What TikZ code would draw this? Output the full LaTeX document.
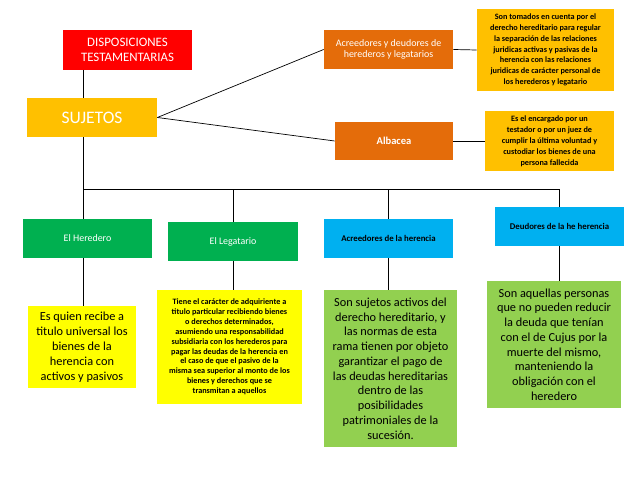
\documentclass[tikz,border=0pt]{standalone}
\usepackage{fontspec}
\setmainfont{Carlito}
\usepackage{xcolor}
\usepackage{tikz}
\usetikzlibrary{positioning}

\definecolor{rojo}{HTML}{FF0000}
\definecolor{oro}{HTML}{FFC000}
\definecolor{naranja}{HTML}{E46C0A}
\definecolor{verde}{HTML}{00B050}
\definecolor{celeste}{HTML}{00B0F0}
\definecolor{amarillo}{HTML}{FFFF00}
\definecolor{lima}{HTML}{92D050}

\begin{document}
\begin{tikzpicture}[x=0.03cm, y=-0.03cm, line width=0.6pt,
    every node/.style={inner sep=0pt, align=center},
    box/.style={rectangle, draw=none, minimum width=3.87cm, minimum height=1.17cm},
    titulo/.style={box, fill=rojo, text=white, font=\fontsize{11}{13.4}\selectfont},
    sujeto/.style={box, fill=oro, text=white, font=\fontsize{15}{18}\selectfont},
    rama/.style={box, fill=naranja, text=white},
    nota/.style={rectangle, fill=oro, font=\bfseries\fontsize{7}{9.2}\selectfont},
    tipo/.style={box, fill=verde, text=white, font=\fontsize{8.5}{10}\selectfont},
    tipoazul/.style={box, fill=celeste, font=\bfseries\fontsize{7.5}{9}\selectfont},
    defamarilla/.style={rectangle, fill=amarillo},
    defverde/.style={rectangle, fill=lima, font=\fontsize{10.5}{12.6}\selectfont}]
    \useasboundingbox (0,0) rectangle (638,479);
    % cabecera
    \node[titulo] (disp) at (127.5,50) {DISPOSICIONES\\TESTAMENTARIAS};
    \node[sujeto, minimum width=3.9cm] (suj) at (92,117.5) {SUJETOS};
    % rama derecha
    \node[rama, font=\fontsize{8.5}{10}\selectfont] (acdh) at (388.5,49.5) {Acreedores y deudores de\\herederos y legatarios};
    \node[nota, minimum width=4.11cm, minimum height=2.46cm] (acdhnota) at (545.5,50)
        {Son tomados en cuenta por el\\derecho hereditario para regular\\la separación de las relaciones\\juridicas activas y pasivas de la\\herencia con las relaciones\\juridicas de carácter personal de\\los herederos y legatario};
    \node[rama, minimum width=3.54cm, minimum height=1.14cm, font=\bfseries\fontsize{9}{11}\selectfont] (alb) at (394,141) {Albacea};
    \node[nota, minimum width=3.87cm, minimum height=1.8cm, font=\bfseries\fontsize{7}{9.4}\selectfont] (albnota) at (549.5,141)
        {Es el encargado por un\\testador o por un juez de\\cumplir la última voluntad y\\custodiar los bienes de una\\persona fallecida};
    % sujetos
    \node[tipo] (her) at (87.5,238.5) {El Heredero};
    \node[tipo, minimum width=3.9cm] (leg) at (233,241.5) {El Legatario};
    \node[tipoazul] (acr) at (388.5,238.5) {Acreedores de la herencia};
    \node[tipoazul] (deu) at (559.5,226.5) {Deudores de la he herencia};
    % definiciones
    \node[defamarilla, minimum width=3.24cm, minimum height=2.46cm, font=\fontsize{10.5}{12.8}\selectfont] (hernota) at (82,347)
        {Es quien recibe a\\titulo universal los\\bienes de la\\herencia con\\activos y pasivos};
    \node[defamarilla, minimum width=4.35cm, minimum height=3.42cm, font=\bfseries\fontsize{7}{8.4}\selectfont] (legnota) at (229.5,347)
        {Tiene el carácter de adquiriente a\\titulo particular recibiendo bienes\\o derechos determinados,\\asumiendo una responsabilidad\\subsidiaria con los herederos para\\pagar las deudas de la herencia en\\el caso de que el pasivo de la\\misma sea superior al monto de los\\bienes y derechos que se\\transmitan a aquellos};
    \node[defverde, minimum width=3.99cm, minimum height=4.71cm] (acrnota) at (390.5,368.5)
        {Son sujetos activos del\\derecho hereditario, y\\las normas de esta\\rama tienen por objeto\\garantizar el pago de\\las deudas hereditarias\\dentro de las\\posibilidades\\patrimoniales de la\\sucesión.};
    \node[defverde, minimum width=4.02cm, minimum height=3.81cm] (deunota) at (554,344.5)
        {Son aquellas personas\\que no pueden reducir\\la deuda que tenían\\con el de Cujus por la\\muerte del mismo,\\manteniendo la\\obligación con el\\heredero};
    % conectores
    \coordinate (eje) at (83,189);
    \coordinate (ejefin) at (559.5,189);
    \draw (disp.south -| eje) -- (suj.north -| eje);
    \draw (suj.south -| eje) -- (eje) -- (ejefin);
    \draw (eje) -- (her.north -| eje);
    \draw (eje -| leg) -- (leg.north);
    \draw (eje -| acr) -- (acr.north);
    \draw (ejefin) -- (deu.north);
    \draw (her.south -| eje) -- (hernota.north -| eje);
    \draw (leg.south) -- (legnota.north -| leg);
    \draw (acr.south) -- (acrnota.north -| acr);
    \draw (deu.south) -- (deunota.north -| deu);
    \draw (suj.east) -- (acdh.west);
    \draw (suj.east) -- (alb.west);
    \draw (acdh.east) -- (acdhnota.west);
    \draw (alb.east) -- (albnota.west);
\end{tikzpicture}
\end{document}
